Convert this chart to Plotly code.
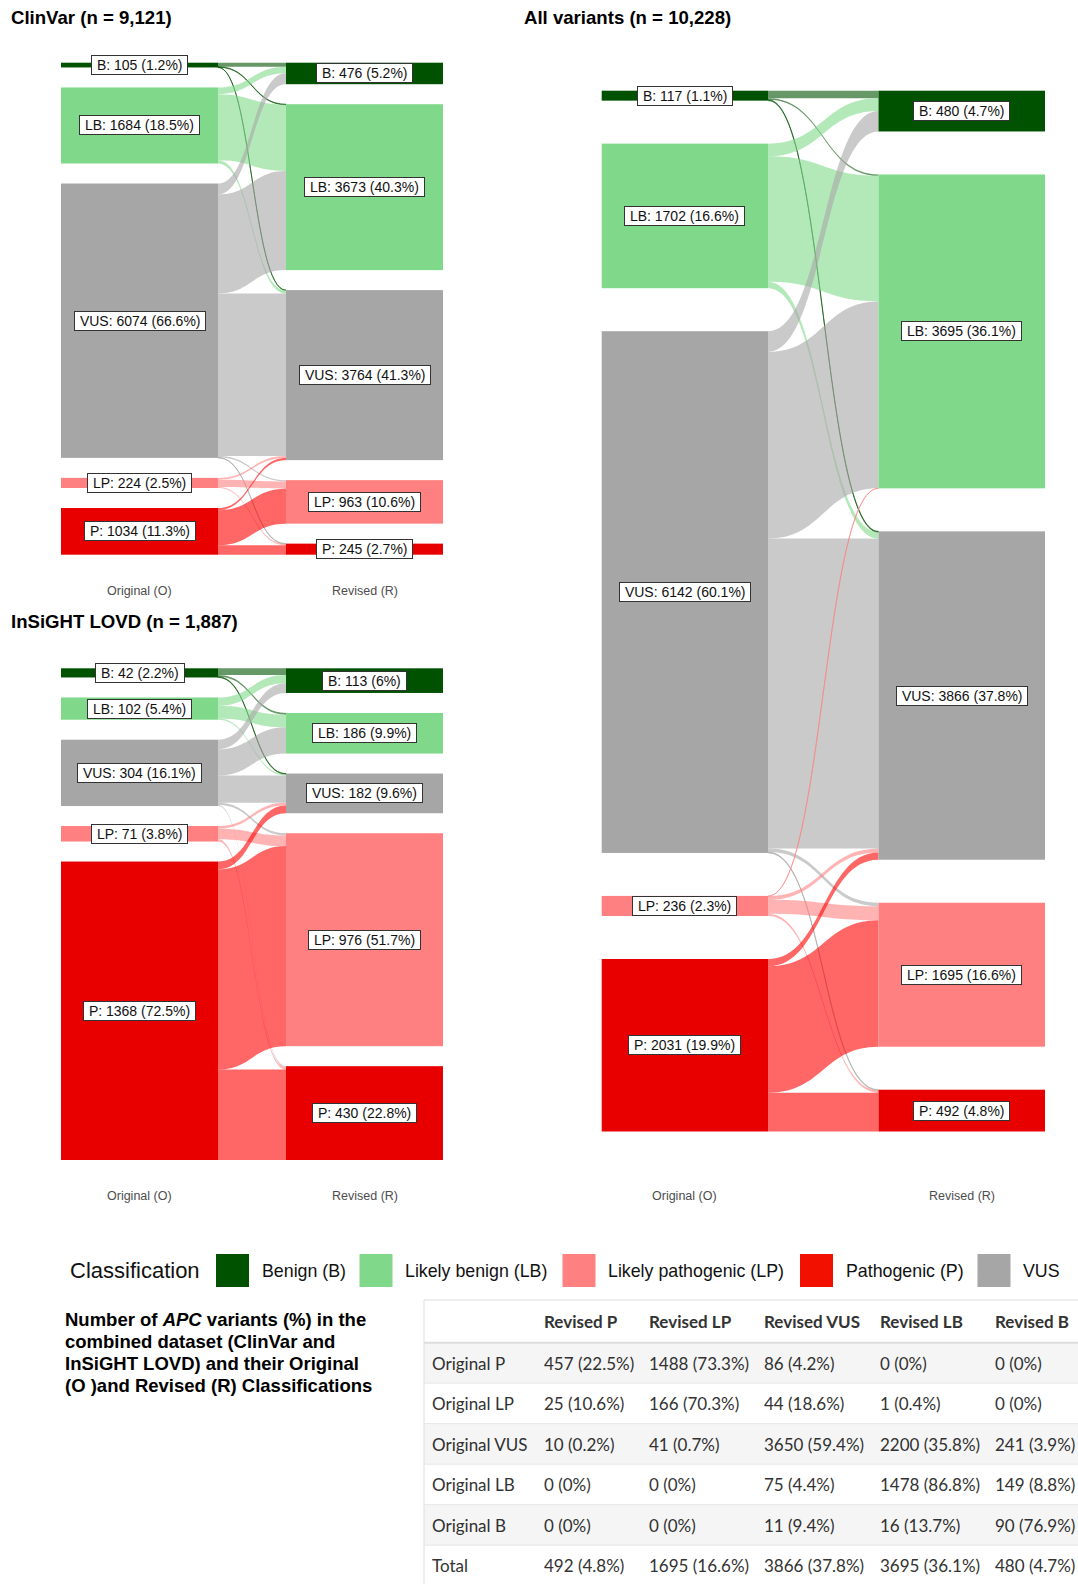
import plotly.graph_objects as go

# ---------------- data ----------------
classes = ["B", "LB", "VUS", "LP", "P"]          # sankey order, top to bottom

# flows: rows = original (B, LB, VUS, LP, P); cols = revised (B, LB, VUS, LP, P)
clinvar_flows = [
    [88, 12, 5, 0, 0],
    [148, 1466, 70, 0, 0],
    [240, 2195, 3600, 28, 11],
    [0, 0, 40, 160, 24],
    [0, 0, 49, 775, 210],
]
insight_flows = [
    [31, 8, 3, 0, 0],
    [38, 58, 6, 0, 0],
    [44, 120, 125, 10, 5],
    [0, 0, 12, 49, 10],
    [0, 0, 36, 917, 415],
]

# combined table: rows = original (P, LP, VUS, LB, B); cols = revised (P, LP, VUS, LB, B)
table_row_labels = ["Original P", "Original LP", "Original VUS", "Original LB", "Original B"]
table_col_labels = ["Revised P", "Revised LP", "Revised VUS", "Revised LB", "Revised B"]
table_classes = ["P", "LP", "VUS", "LB", "B"]
combined_counts = [
    [457, 1488, 86, 0, 0],
    [25, 166, 44, 1, 0],
    [10, 41, 3650, 2200, 241],
    [0, 0, 75, 1478, 149],
    [0, 0, 11, 16, 90],
]

legend_labels = ["Benign (B)", "Likely benign (LB)", "Likely pathogenic (LP)", "Pathogenic (P)", "VUS"]
legend_classes = ["B", "LB", "LP", "P", "VUS"]

caption_lines = [
    "<b>Number of <i>APC</i> variants (%) in the</b>",
    "<b>combined dataset (ClinVar and</b>",
    "<b>InSiGHT LOVD) and their Original</b>",
    "<b>(O )and Revised (R) Classifications</b>",
]

# ---------------- styles ----------------
node_colors = {"B": "#005200", "LB": "#80d98a", "VUS": "#a6a6a6", "LP": "#ff8080", "P": "#e80000"}
link_base = {"B": "#005200", "LB": "#80d98a", "VUS": "#a6a6a6", "LP": "#ff8080", "P": "#ff0000"}
legend_colors = {"B": "#005200", "LB": "#80d98a", "VUS": "#a6a6a6", "LP": "#ff8080", "P": "#f21000"}
FONT = "Liberation Sans, Arial, Helvetica, sans-serif"
W, H = 1078, 1584
NB = "\u00a0"


def fx(px):
    return px / W


def fy(py):
    return 1 - py / H


def rgba(hexc, a):
    h = hexc.lstrip("#")
    return "rgba(%d,%d,%d,%s)" % (int(h[0:2], 16), int(h[2:4], 16), int(h[4:6], 16), a)


def pct(v, tot):
    s = "%.1f" % (100.0 * v / tot)
    if s.endswith(".0"):
        s = s[:-2]
    return s


# combined flows reordered for the sankey (B..P)
all_flows = [[combined_counts[table_classes.index(o)][table_classes.index(r)] for r in classes] for o in classes]

panels = [
    dict(title="ClinVar", flows=clinvar_flows, x0=61, x1=443, y0=62.7, y1=554.7, pad=20, thick=157,
         tx=9, ty=17.3, ay=591),
    dict(title="InSiGHT LOVD", flows=insight_flows, x0=61, x1=443, y0=668.3, y1=1160, pad=20, thick=157,
         tx=9, ty=621.7, ay=1196),
    dict(title="All variants", flows=all_flows, x0=601.7, x1=1045, y0=90.7, y1=1131.5, pad=43, thick=166.5,
         tx=522, ty=17.3, ay=1196),
]

fig = go.Figure()
annotations = []
shapes = []

for p in panels:
    flows = p["flows"]
    out_tot = [sum(r) for r in flows]
    in_tot = [sum(flows[i][j] for i in range(5)) for j in range(5)]
    total = sum(out_tot)
    Wp = p["x1"] - p["x0"]
    Hp = p["y1"] - p["y0"]
    ky = (Hp - 4 * p["pad"]) / total
    xl = (p["thick"] / 2) / Wp
    xr = 1 - xl

    node_x, node_y, ncol = [], [], []
    for col_vals, xc in ((out_tot, xl), (in_tot, xr)):
        cum = 0
        for i, v in enumerate(col_vals):
            yc = (cum * ky + i * p["pad"] + v * ky / 2) / Hp
            node_x.append(xc)
            node_y.append(yc)
            ncol.append(node_colors[classes[i]])
            cum += v
            # centred boxed label
            annotations.append(dict(
                x=fx(p["x0"] + xc * Wp), y=fy(p["y0"] + yc * Hp), xref="paper", yref="paper",
                text="%s%s: %d (%s%%)%s" % (NB, classes[i], v, pct(v, total), NB),
                showarrow=False, xanchor="center", yanchor="middle",
                font=dict(family=FONT, size=14, color="#111111"),
                bgcolor="white", bordercolor="#333333", borderwidth=1, borderpad=1))

    src, tgt, val, lcol = [], [], [], []
    for i in range(5):
        for j in range(5):
            if flows[i][j] > 0:
                src.append(i)
                tgt.append(5 + j)
                val.append(flows[i][j])
                lcol.append(rgba(link_base[classes[i]], 0.6))

    fig.add_trace(go.Sankey(
        domain=dict(x=[fx(p["x0"]), fx(p["x1"])], y=[fy(p["y1"]), fy(p["y0"])]),
        arrangement="fixed",
        node=dict(label=[""] * 10, x=node_x, y=node_y, pad=p["pad"], thickness=p["thick"],
                  color=ncol, line=dict(width=0),
                  customdata=["Original " + c for c in classes] + ["Revised " + c for c in classes],
                  hovertemplate="%{customdata}: %{value}<extra></extra>"),
        link=dict(source=src, target=tgt, value=val, color=lcol, line=dict(width=0)),
    ))

    annotations.append(dict(x=fx(p["tx"]), y=fy(p["ty"]), xref="paper", yref="paper",
                            text="<b>%s (n = %s)</b>" % (p["title"], "{:,}".format(total)),
                            showarrow=False, xanchor="left", yanchor="middle",
                            font=dict(family=FONT, size=18.6, color="black")))
    for lab, xc in (("Original (O)", xl), ("Revised (R)", xr)):
        annotations.append(dict(x=fx(p["x0"] + xc * Wp), y=fy(p["ay"]), xref="paper", yref="paper",
                                text=lab, showarrow=False, xanchor="center", yanchor="middle",
                                font=dict(family=FONT, size=12.5, color="#4d4d4d")))

# ---------------- legend (drawn) ----------------
leg_y0, leg_y1 = 1254, 1287
annotations.append(dict(x=fx(68), y=fy((leg_y0 + leg_y1) / 2), xref="paper", yref="paper",
                        text="Classification", showarrow=False, xanchor="left", yanchor="middle",
                        font=dict(family=FONT, size=22, color="#111111")))
leg_x = [216, 359.5, 562.5, 800, 977.5]
for lx, lab, c in zip(leg_x, legend_labels, legend_classes):
    shapes.append(dict(type="rect", xref="paper", yref="paper", x0=fx(lx), x1=fx(lx + 33),
                       y0=fy(leg_y1), y1=fy(leg_y0), fillcolor=legend_colors[c], line=dict(width=0)))
    annotations.append(dict(x=fx(lx + 43.5), y=fy((leg_y0 + leg_y1) / 2), xref="paper", yref="paper",
                            text=lab, showarrow=False, xanchor="left", yanchor="middle",
                            font=dict(family=FONT, size=17.8, color="#111111")))

# ---------------- caption ----------------
for k, line in enumerate(caption_lines):
    annotations.append(dict(x=fx(63), y=fy(1319 + 22 * k), xref="paper", yref="paper",
                            text=line, showarrow=False, xanchor="left", yanchor="middle",
                            font=dict(family=FONT, size=18.5, color="black")))

# ---------------- table ----------------
row_tot = [sum(r) for r in combined_counts]
col_tot = [sum(combined_counts[i][j] for i in range(5)) for j in range(5)]
grand = sum(row_tot)
cols = [[s.replace(" ", NB) for s in table_row_labels + ["Total"]]]
for j in range(5):
    colv = ["%d%s(%s%%)" % (combined_counts[i][j], NB, pct(combined_counts[i][j], row_tot[i])) for i in range(5)]
    colv.append("%d%s(%s%%)" % (col_tot[j], NB, pct(col_tot[j], grand)))
    cols.append(colv)

T_LEFT, T_TOP, HEAD_H, ROW_H = 424, 1300, 42.7, 40.5
BODY_SHIFT, HEAD_SHIFT = 6.5, 3.0   # text offsets so plotly's top-aligned text sits centred in rows
n_rows = len(cols[0])

fig.add_trace(go.Table(
    domain=dict(x=[fx(T_LEFT), 1], y=[0, fy(T_TOP + HEAD_SHIFT)]),
    columnwidth=[112, 105, 115, 116, 115, 91],
    header=dict(values=[""] + ["<b>%s</b>" % c.replace(" ", NB) for c in table_col_labels],
                align="left", height=HEAD_H + BODY_SHIFT - HEAD_SHIFT, fill=dict(color="white"),
                line=dict(color="white", width=0),
                font=dict(family="Lato", size=17, color="#333333")),
    cells=dict(values=cols, align="left", height=ROW_H,
               fill=dict(color="white"),
               line=dict(color="white", width=0),
               font=dict(family="Lato", size=17, color="#333333")),
))

# table rules and stripes (drawn over the table at the true row positions)
shapes.append(dict(type="line", xref="paper", yref="paper", x0=fx(T_LEFT), x1=1,
                   y0=fy(T_TOP), y1=fy(T_TOP), line=dict(color="#dddddd", width=1), layer="above"))
shapes.append(dict(type="line", xref="paper", yref="paper", x0=fx(T_LEFT), x1=fx(T_LEFT),
                   y0=fy(T_TOP), y1=0, line=dict(color="#dddddd", width=1), layer="above"))
for r in range(n_rows):
    top = T_TOP + HEAD_H + r * ROW_H
    if r % 2 == 0:
        shapes.append(dict(type="rect", xref="paper", yref="paper", x0=fx(T_LEFT + 0.5), x1=1,
                           y0=fy(top + ROW_H), y1=fy(top), fillcolor="rgba(0,0,0,0.04)",
                           line=dict(width=0), layer="above"))
    shapes.append(dict(type="line", xref="paper", yref="paper", x0=fx(T_LEFT), x1=1,
                       y0=fy(top), y1=fy(top),
                       line=dict(color="#dddddd" if r == 0 else "#e6e6e6", width=2 if r == 0 else 1),
                       layer="above"))

fig.update_layout(width=W, height=H, margin=dict(l=0, r=0, t=0, b=0),
                  paper_bgcolor="white", plot_bgcolor="white",
                  font=dict(family=FONT), annotations=annotations, shapes=shapes,
                  showlegend=False)

fig.write_html("out.html")
